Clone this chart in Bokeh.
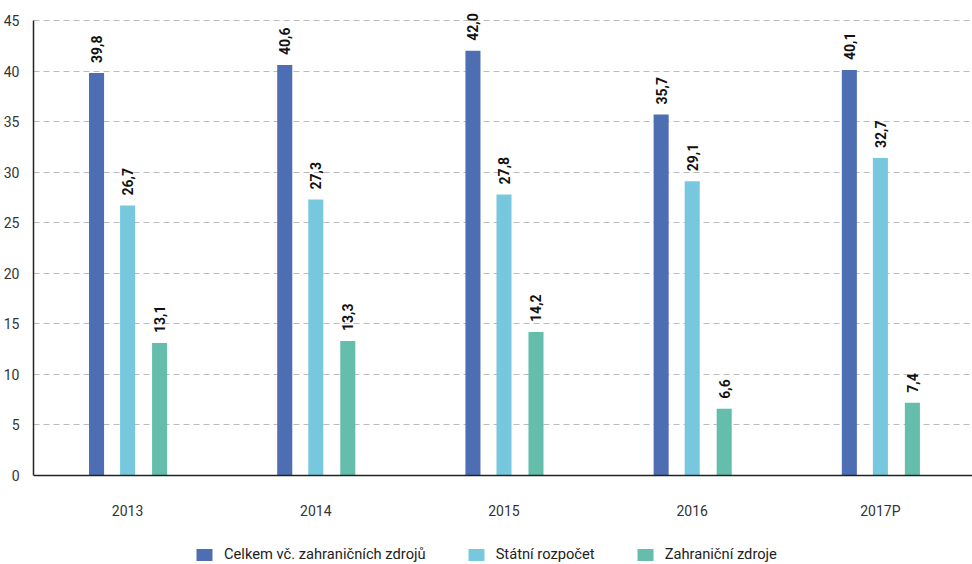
from bokeh.plotting import figure
from bokeh.models import FactorRange, ColumnDataSource, Legend, LegendItem, Range1d, FixedTicker
from bokeh.transform import dodge
from bokeh.core.properties import value
from bokeh.embed import file_html
from bokeh.resources import INLINE

years = ["2013", "2014", "2015", "2016", "2017P"]
celkem = [39.8, 40.6, 42.0, 35.7, 40.1]
statni = [26.7, 27.3, 27.8, 29.1, 31.4]
zahranicni = [13.1, 13.3, 14.2, 6.6, 7.2]
celkem_labels = ["39,8", "40,6", "42,0", "35,7", "40,1"]
statni_labels = ["26,7", "27,3", "27,8", "29,1", "32,7"]
zahranicni_labels = ["13,1", "13,3", "14,2", "6,6", "7,4"]
series_names = ["Celkem vč. zahraničních zdrojů", "Státní rozpočet", "Zahraniční zdroje"]
colors = ["#4E6EB4", "#77C8DE", "#65BDAC"]
y_ticks = [0, 5, 10, 15, 20, 25, 30, 35, 40, 45]

# pixel layout of the frame (0 at 475px, 45 at 20px, frame spans 0..564px)
px_per_unit = 455 / 45
y_lo = -89 / px_per_unit
y_hi = 45 + 20 / px_per_unit

src = ColumnDataSource(dict(
    x=years,
    c=celkem, s=statni, z=zahranicni,
    cl=celkem_labels, sl=statni_labels, zl=zahranicni_labels,
))

p = figure(x_range=FactorRange(*years), y_range=Range1d(y_lo, y_hi),
           frame_width=941, frame_height=564, output_backend="svg", toolbar_location=None,
           min_border_left=24, min_border_right=0, min_border_top=0, min_border_bottom=0)

offsets = [-0.165, 0.0, 0.17]
fields = ["c", "s", "z"]
lfields = ["cl", "sl", "zl"]
renderers = []
for off, f, lf, col in zip(offsets, fields, lfields, colors):
    r = p.vbar(x=dodge("x", off, range=p.x_range), top=f, bottom=0, width=0.08, source=src,
               fill_color=col, line_color=None)
    renderers.append(r)
    p.text(x=dodge("x", off, range=p.x_range), y=f, text=lf, source=src,
           angle=1.5708, text_align="left", text_baseline="middle",
           x_offset=0, y_offset=-10,
           text_font=value("Roboto"), text_font_style="bold",
           text_font_size="14px", text_color="#111111")

p.yaxis.ticker = FixedTicker(ticks=y_ticks)
p.ygrid.ticker = FixedTicker(ticks=y_ticks[1:])
p.xgrid.grid_line_color = None
p.ygrid.grid_line_color = "#BBBBBB"
p.ygrid.grid_line_dash = "6 4"
p.ygrid.grid_line_width = 1
p.yaxis.bounds = (0, 45)
p.xaxis.fixed_location = 0

for ax in (p.xaxis, p.yaxis):
    ax.major_tick_line_color = None
    ax.minor_tick_line_color = None
    ax.axis_line_color = "#222222"
    ax.axis_line_width = 1.5
    ax.major_label_text_font = "Roboto"
    ax.major_label_text_font_size = "14px"
    ax.major_label_text_color = "#333333"
p.yaxis.major_label_standoff = 8
p.xaxis.major_label_standoff = 21
p.outline_line_color = None

legend = Legend(items=[LegendItem(label=n, renderers=[r]) for n, r in zip(series_names, renderers)],
                orientation="horizontal", location=(161, 1),
                label_text_font="Roboto", label_text_font_size="14.7px", label_text_color="#222222",
                glyph_width=20, glyph_height=15, spacing=40, label_standoff=10,
                border_line_color=None, background_fill_alpha=0,
                margin=0, padding=0, label_height=15)
p.add_layout(legend, "center")

open("out.html", "w").write(file_html(p, INLINE))
